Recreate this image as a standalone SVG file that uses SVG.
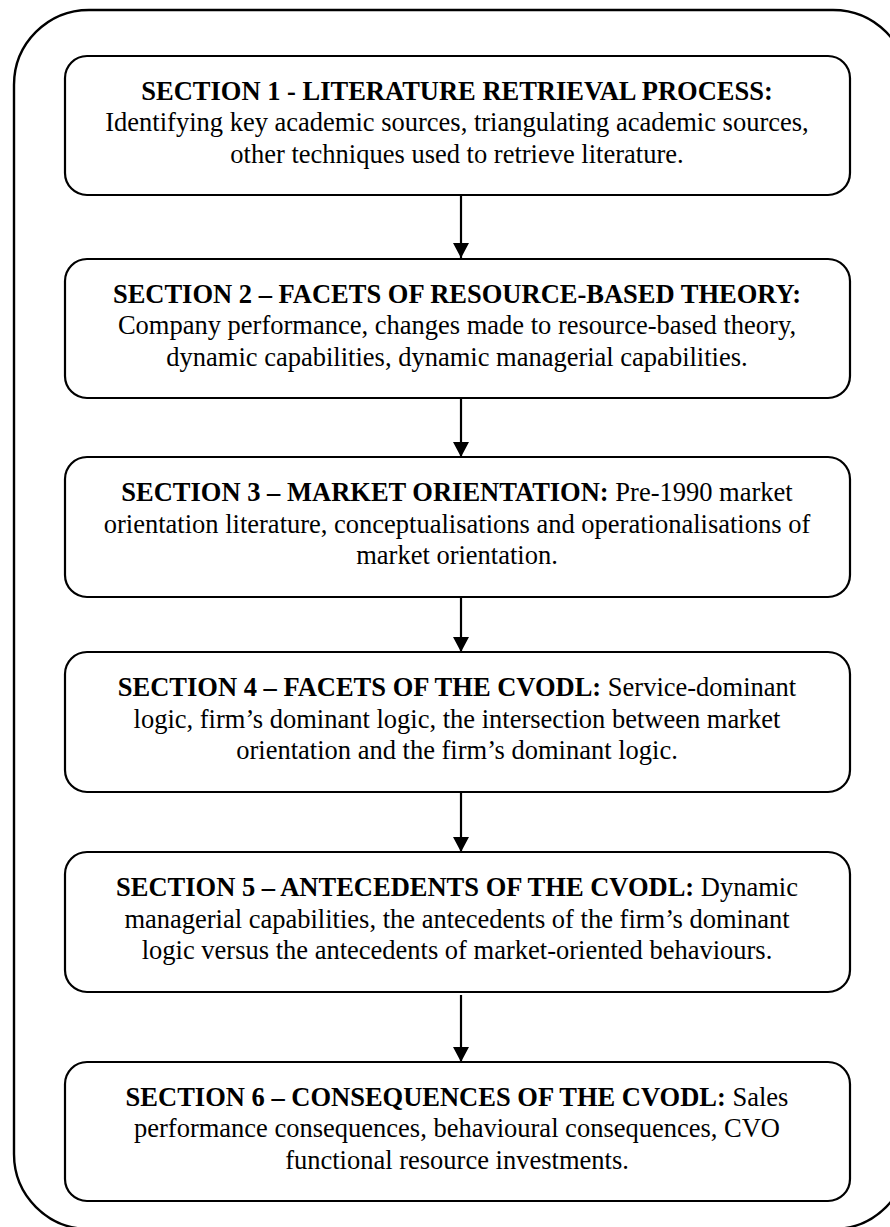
<svg xmlns="http://www.w3.org/2000/svg" width="890" height="1227" viewBox="0 0 890 1227">
<style>
.frame{fill:none;stroke:#000;stroke-width:2.4}
.box{fill:#fff;stroke:#000;stroke-width:2.2}
.t{font-family:"Liberation Serif","Times New Roman",serif;font-size:26.5px;fill:#000;text-anchor:middle}
.b{font-weight:bold}
.arr{stroke:#000;stroke-width:2.2;fill:none}
</style>
<defs>
<marker id="ah" markerUnits="userSpaceOnUse" markerWidth="16" markerHeight="16" refX="15" refY="8" orient="auto">
<path d="M0,0 L15,8 L0,16 Z" fill="#000"/>
</marker>
</defs>
<rect class="frame" x="14" y="10" width="894" height="1219" rx="75" ry="75"/>
<g id="connectors">
<line class="arr" x1="461" y1="195" x2="461" y2="258" marker-end="url(#ah)"/>
<line class="arr" x1="461" y1="398" x2="461" y2="457" marker-end="url(#ah)"/>
<line class="arr" x1="461" y1="595" x2="461" y2="652" marker-end="url(#ah)"/>
<line class="arr" x1="461" y1="792" x2="461" y2="852" marker-end="url(#ah)"/>
<line class="arr" x1="461" y1="995" x2="461" y2="1062" marker-end="url(#ah)"/>
</g>
<g id="section1">
<rect class="box" x="65" y="56" width="785" height="139" rx="22"/>
<text class="t" x="457" y="99.5"><tspan class="b">SECTION 1 - LITERATURE RETRIEVAL PROCESS:</tspan></text>
<text class="t" x="457" y="131">Identifying key academic sources, triangulating academic sources,</text>
<text class="t" x="457" y="162.5">other techniques used to retrieve literature.</text>
</g>
<g id="section2">
<rect class="box" x="65" y="259" width="785" height="139" rx="22"/>
<text class="t" x="457" y="302.5"><tspan class="b">SECTION 2 – FACETS OF RESOURCE-BASED THEORY:</tspan></text>
<text class="t" x="457" y="334">Company performance, changes made to resource-based theory,</text>
<text class="t" x="457" y="365.5">dynamic capabilities, dynamic managerial capabilities.</text>
</g>
<g id="section3">
<rect class="box" x="65" y="457" width="785" height="140" rx="22"/>
<text class="t" x="457" y="501"><tspan class="b">SECTION 3 – MARKET ORIENTATION:</tspan> Pre-1990 market</text>
<text class="t" x="457" y="532.5">orientation literature, conceptualisations and operationalisations of</text>
<text class="t" x="457" y="564">market orientation.</text>
</g>
<g id="section4">
<rect class="box" x="65" y="652" width="785" height="140" rx="22"/>
<text class="t" x="457" y="696"><tspan class="b">SECTION 4 – FACETS OF THE CVODL:</tspan> Service-dominant</text>
<text class="t" x="457" y="727.5">logic, firm’s dominant logic, the intersection between market</text>
<text class="t" x="457" y="759">orientation and the firm’s dominant logic.</text>
</g>
<g id="section5">
<rect class="box" x="65" y="852" width="785" height="140" rx="22"/>
<text class="t" x="457" y="896"><tspan class="b">SECTION 5 – ANTECEDENTS OF THE CVODL:</tspan> Dynamic</text>
<text class="t" x="457" y="927.5">managerial capabilities, the antecedents of the firm’s dominant</text>
<text class="t" x="457" y="959">logic versus the antecedents of market-oriented behaviours.</text>
</g>
<g id="section6">
<rect class="box" x="65" y="1062" width="785" height="139" rx="22"/>
<text class="t" x="457" y="1105.5"><tspan class="b">SECTION 6 – CONSEQUENCES OF THE CVODL:</tspan> Sales</text>
<text class="t" x="457" y="1137">performance consequences, behavioural consequences, CVO</text>
<text class="t" x="457" y="1168.5">functional resource investments.</text>
</g>
</svg>
